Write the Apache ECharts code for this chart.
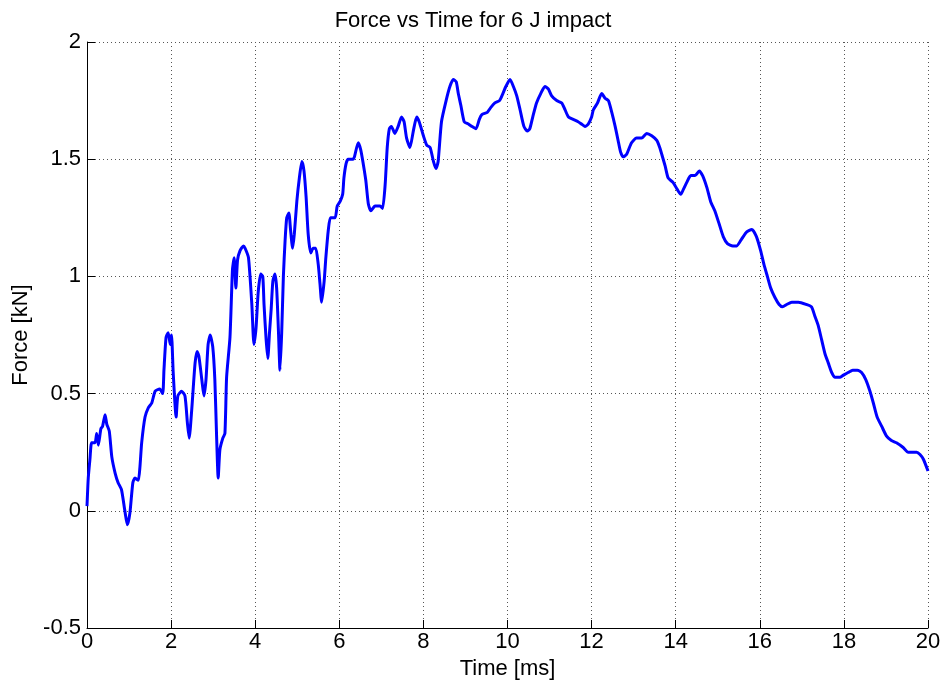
<!DOCTYPE html>
<html>
<head>
<meta charset="utf-8">
<script src="https://cdn.jsdelivr.net/npm/echarts@6/dist/echarts.min.js"></script>
<style>
html,body{margin:0;padding:0;background:#fff;}
#chart{width:946px;height:690px;}
</style>
</head>
<body>
<div id="chart"></div>
<script>
var titleText = 'Force vs Time for 6 J impact';
var xAxisName = 'Time [ms]';
var yAxisName = 'Force [kN]';

var timeMs = [
0.00,0.03,0.07,0.11,0.19,0.23,0.27,0.33,0.37,0.43,0.47,0.53,0.59,0.67,0.74,0.82,0.90,0.96,1.02,1.09,
1.14,1.22,1.26,1.30,1.38,1.46,1.54,1.62,1.73,1.80,1.83,1.88,1.93,1.98,2.01,2.05,2.12,2.16,2.25,2.33,
2.39,2.43,2.49,2.57,2.62,2.66,2.73,2.78,2.83,2.88,2.93,2.99,3.04,3.08,3.12,3.16,3.23,3.28,3.32,3.40,
3.46,3.50,3.54,3.58,3.64,3.72,3.76,3.84,3.92,3.97,4.02,4.07,4.13,4.18,4.21,4.26,4.30,4.34,4.38,4.42,
4.47,4.51,4.55,4.59,4.63,4.67,4.71,4.75,4.80,4.84,4.89,4.93,4.99,5.05,5.11,5.16,5.21,5.26,5.32,5.38,
5.44,5.50,5.54,5.58,5.64,5.68,5.74,5.79,5.90,5.95,6.02,6.08,6.11,6.16,6.21,6.33,6.36,6.45,6.51,6.57,
6.63,6.69,6.75,6.85,6.97,7.03,7.09,7.14,7.19,7.24,7.32,7.40,7.48,7.54,7.60,7.68,7.76,7.84,7.90,8.00,
8.08,8.16,8.24,8.30,8.35,8.43,8.54,8.63,8.71,8.78,8.83,8.89,8.97,9.07,9.15,9.25,9.33,9.39,9.52,9.60,
9.70,9.81,9.89,9.96,10.06,10.14,10.22,10.30,10.39,10.47,10.53,10.60,10.69,10.79,10.89,10.97,11.05,11.17,11.29,11.37,
11.45,11.56,11.68,11.76,11.84,11.92,12.00,12.04,12.14,12.24,12.32,12.40,12.48,12.56,12.63,12.69,12.75,12.83,12.95,13.07,
13.19,13.31,13.43,13.55,13.62,13.67,13.75,13.82,13.94,14.04,14.12,14.18,14.26,14.36,14.46,14.56,14.64,14.74,14.83,14.93,
15.04,15.13,15.23,15.36,15.45,15.57,15.69,15.81,15.92,16.02,16.10,16.18,16.26,16.36,16.46,16.54,16.64,16.76,16.92,17.11,
17.23,17.31,17.39,17.47,17.55,17.63,17.71,17.79,17.91,18.00,18.10,18.21,18.32,18.42,18.52,18.62,18.70,18.79,18.90,19.01,
19.13,19.25,19.41,19.53,19.64,19.73,19.81,19.89,20.00
];

var forceKN = [
0.02,0.14,0.22,0.29,0.29,0.33,0.28,0.35,0.36,0.41,0.37,0.34,0.23,0.16,0.12,0.09,0.00,-0.06,-0.01,0.12,
0.14,0.13,0.19,0.29,0.40,0.44,0.46,0.51,0.52,0.50,0.60,0.74,0.76,0.71,0.75,0.59,0.40,0.49,0.51,0.49,
0.37,0.31,0.43,0.63,0.68,0.66,0.56,0.49,0.56,0.71,0.75,0.70,0.56,0.33,0.14,0.26,0.31,0.33,0.57,0.74,
1.03,1.08,0.95,1.07,1.11,1.13,1.12,1.08,0.88,0.71,0.78,0.93,1.01,1.00,0.88,0.73,0.65,0.76,0.86,0.98,
1.01,0.95,0.78,0.60,0.76,1.00,1.15,1.25,1.27,1.20,1.12,1.18,1.32,1.42,1.49,1.45,1.34,1.18,1.10,1.12,
1.12,1.05,0.97,0.89,0.98,1.08,1.20,1.25,1.25,1.30,1.32,1.35,1.42,1.48,1.50,1.50,1.51,1.57,1.54,1.48,
1.41,1.31,1.28,1.30,1.30,1.29,1.39,1.55,1.63,1.64,1.61,1.64,1.68,1.66,1.59,1.55,1.62,1.68,1.66,1.60,
1.56,1.55,1.49,1.46,1.49,1.66,1.75,1.81,1.84,1.83,1.78,1.73,1.66,1.65,1.64,1.63,1.67,1.69,1.70,1.72,
1.74,1.75,1.78,1.81,1.84,1.81,1.77,1.71,1.64,1.62,1.63,1.68,1.74,1.78,1.81,1.80,1.77,1.75,1.74,1.71,
1.68,1.67,1.66,1.65,1.64,1.65,1.68,1.71,1.74,1.78,1.76,1.75,1.70,1.64,1.58,1.53,1.51,1.52,1.57,1.59,
1.59,1.61,1.60,1.58,1.55,1.52,1.47,1.42,1.40,1.37,1.35,1.37,1.40,1.43,1.43,1.45,1.43,1.38,1.32,1.28,
1.22,1.17,1.14,1.13,1.13,1.16,1.19,1.20,1.17,1.11,1.05,1.00,0.95,0.91,0.88,0.87,0.88,0.89,0.89,0.88,
0.87,0.83,0.79,0.73,0.67,0.63,0.59,0.57,0.57,0.58,0.59,0.60,0.60,0.59,0.56,0.51,0.46,0.40,0.36,0.32,
0.30,0.29,0.27,0.25,0.25,0.25,0.24,0.22,0.17
];

var xMin = 0, xMax = 20, xStep = 2;
var yMin = -0.5, yMax = 2, yStep = 0.5;

var seriesData = timeMs.map(function (t, i) { return [t, forceKN[i]]; });

var FONT = '"Liberation Sans", Arial, Helvetica, sans-serif';
var gridLine = { show: true, lineStyle: { color: '#555', width: 1, type: [1, 3] } };

var chart = echarts.init(document.getElementById('chart'), null, { renderer: 'canvas' });
chart.setOption({
  animation: false,
  backgroundColor: '#ffffff',
  title: {
    text: titleText,
    left: 'center',
    top: 5,
    textStyle: { fontFamily: FONT, fontSize: 22, fontWeight: 'normal', color: '#000' }
  },
  grid: { left: 87, right: 18, top: 42, bottom: 62, containLabel: false },
  xAxis: {
    type: 'value',
    min: xMin, max: xMax, interval: xStep,
    name: xAxisName,
    nameLocation: 'middle',
    nameGap: 30,
    nameTextStyle: { fontFamily: FONT, fontSize: 22, color: '#000' },
    axisLine: { show: true, onZero: false, lineStyle: { color: '#000', width: 1 } },
    axisTick: { show: true, inside: true, length: 8, lineStyle: { color: '#000' } },
    axisLabel: { margin: 3, fontFamily: FONT, fontSize: 22, color: '#000' },
    splitLine: gridLine
  },
  yAxis: {
    type: 'value',
    min: yMin, max: yMax, interval: yStep,
    name: yAxisName,
    nameLocation: 'middle',
    nameGap: 54,
    nameTextStyle: { fontFamily: FONT, fontSize: 22, color: '#000' },
    axisLine: { show: true, onZero: false, lineStyle: { color: '#000', width: 1 } },
    axisTick: { show: true, inside: true, length: 8, lineStyle: { color: '#000' } },
    axisLabel: { margin: 6, fontFamily: FONT, fontSize: 22, color: '#000' },
    splitLine: gridLine
  },
  series: [{
    type: 'line',
    data: seriesData,
    showSymbol: false,
    smooth: 0.2,
    lineStyle: { color: '#0000ff', width: 3 },
    itemStyle: { color: '#0000ff' }
  }]
});
</script>
</body>
</html>
